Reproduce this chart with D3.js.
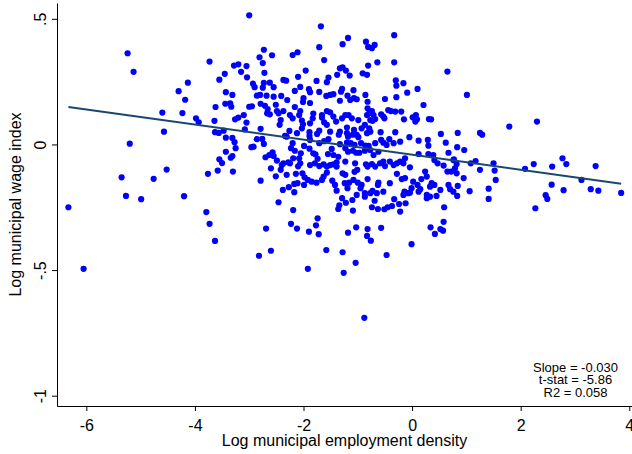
<!DOCTYPE html>
<html>
<head>
<meta charset="utf-8">
<script src="https://cdn.jsdelivr.net/npm/d3@7"></script>
<style>
  body { margin: 0; background: #fff; }
  svg { display: block; font-family: "Liberation Sans", Arial, sans-serif; }
</style>
</head>
<body>
<svg id="chart" width="632" height="454"></svg>
<script>
// [log employment density, log wage index], grouped by area
const pointsWest = [
  [-6.33,-0.250],[-6.05,-0.495],[-5.24,0.363],[-5.13,0.289],[-5.20,0.003],[-5.35,-0.131],[-5.27,-0.205],
  [-4.99,-0.218],[-4.76,-0.137],[-4.60,0.127],[-4.57,0.051],[-4.52,-0.100],[-4.30,0.212],[-4.18,0.178],
  [-4.13,0.246],[-4.23,0.125],[-4.20,-0.206],[-3.98,0.104],[-3.93,0.088],[-3.76,-0.117],[-3.79,-0.269],
  [-3.73,-0.316],[-3.63,-0.384],[-3.73,0.330],[-3.55,0.258],[-3.45,0.281],[-3.28,0.314],[-3.43,0.208],
  [-3.31,0.197],[-3.44,0.162],[-3.35,0.164],[-3.33,0.150],[-3.62,0.149],[-3.64,0.094],[-3.26,0.100],
  [-3.63,0.049],[-3.56,0.046],[-3.47,0.055],[-3.43,0.027],[-3.31,0.026],[-3.27,0.009],[-3.25,-0.015],
  [-3.43,-0.029],[-3.31,-0.046],[-3.34,-0.053],[-3.55,-0.059],[-3.50,-0.074],[-3.58,-0.104],[-3.30,-0.108]
];
const pointsMidUpper = [
  [-3.00,0.514],[-1.68,0.470],[-1.18,0.424],[-1.28,0.399],[-0.85,0.409],[-0.81,0.388],[-1.71,0.387],
  [-2.73,0.377],[-2.81,0.347],[-2.58,0.355],[-2.20,0.356],[-2.11,0.367],[-1.62,0.336],[-2.75,0.324],
  [-3.20,0.319],[-3.05,0.312],[-3.15,0.289],[-2.72,0.285],[-3.04,0.267],[-1.96,0.294],[-1.33,0.303],
  [-1.28,0.307],[-1.22,0.294],[-1.15,0.274],[-1.38,0.277],[-0.91,0.283],[-0.83,0.277],[-0.81,0.314],
  [-2.37,0.257],[-2.32,0.254],[-2.10,0.269],[-1.54,0.266],[-1.57,0.248],[-1.76,0.253],[-2.93,0.242],
  [-2.90,0.228],[-2.73,0.245],[-2.62,0.246],[-2.75,0.226],[-2.55,0.228],[-2.06,0.229],[-1.90,0.220],
  [-1.88,0.208],[-2.16,0.213],[-1.71,0.209],[-1.29,0.221],[-1.31,0.210],[-1.08,0.216],[-2.86,0.194],
  [-2.80,0.197],[-2.68,0.194],[-2.55,0.190],[-2.41,0.193],[-2.30,0.177],[-2.00,0.184],[-2.01,0.169],
  [-1.88,0.165],[-1.58,0.193],[-1.51,0.197],[-1.45,0.200],[-1.33,0.174],[-1.19,0.194],[-1.14,0.177],
  [-1.07,0.184],[-1.02,0.180],[-0.86,0.197],[-0.82,0.170],[-3.00,0.150],[-2.95,0.152],[-2.79,0.162],
  [-2.71,0.154],[-2.66,0.141],[-2.51,0.158],[-2.49,0.133],[-2.16,0.149],[-2.06,0.133],[-1.82,0.123],
  [-1.66,0.117],[-1.57,0.133],[-1.51,0.128],[-3.20,0.107],[-3.10,0.117],[-2.67,0.124],[-2.62,0.120],
  [-2.46,0.124],[-2.37,0.133],[-3.05,0.087],[-3.08,0.060],[-2.79,0.062],[-2.42,0.097],[-2.44,0.078],
  [-2.25,0.117],[-2.20,0.104],[-2.08,0.117],[-2.03,0.095],[-2.01,0.080],[-1.88,0.084],[-1.83,0.104],
  [-1.66,0.107],[-1.62,0.088],[-1.57,0.078],[-1.45,0.111],[-1.40,0.091],[-1.29,0.104],[-1.23,0.117],
  [-1.17,0.117],[-1.11,0.104],[-0.99,0.097],[-0.87,0.078],[-0.83,0.117],[-0.77,0.097],[-2.26,0.054],
  [-2.12,0.045],[-2.03,0.064],[-1.89,0.049],[-1.71,0.055],[-1.51,0.051],[-1.33,0.051],[-1.20,0.067],
  [-1.07,0.058],[-0.93,0.064],[-0.83,0.045]
];
const pointsMidLower = [
  [-2.96,-0.011],[-2.92,-0.009],[-2.86,0.021],[-2.76,0.022],[-2.73,0.002],[-2.70,-0.051],[-2.63,-0.042],
  [-2.57,-0.031],[-2.55,-0.046],[-2.49,-0.064],[-2.60,-0.095],[-2.79,-0.144],[-2.51,-0.127],[-2.42,-0.101],
  [-2.40,-0.082],[-2.37,-0.075],[-2.31,-0.121],[-2.28,-0.071],[-2.25,-0.075],[-2.38,-0.181],[-2.27,-0.170],
  [-2.17,-0.190],[-2.17,-0.157],[-2.11,-0.154],[-1.99,-0.161],[-2.46,-0.230],[-2.19,-0.261],[-2.69,-0.335],
  [-2.23,-0.316],[-2.12,-0.335],[-1.90,-0.347],[-1.77,-0.322],[-1.74,-0.294],[-1.72,-0.357],[-2.60,-0.423],
  [-2.82,-0.443],[-1.58,-0.420],[-1.28,-0.429],[-1.18,-0.351],[-1.03,-0.330],[-1.36,-0.257],[-1.34,-0.242],
  [-1.29,-0.214],[-1.22,-0.232],[-1.10,-0.221],[-1.09,-0.263],[-1.02,-0.201],[-0.95,-0.174],[-0.87,-0.208],
  [-0.93,-0.161],[-1.00,-0.152],[-1.08,-0.141],[-1.16,-0.152],[-1.24,-0.154],[-1.19,-0.174],[-1.28,-0.115],
  [-1.23,-0.121],[-1.42,-0.161],[-1.47,-0.144],[-1.39,-0.184],[-1.57,-0.112],[-1.63,-0.128],[-1.66,-0.141],
  [-1.76,-0.152],[-1.85,-0.148],[-1.92,-0.141],[-1.98,-0.131],[-2.02,-0.115],[-2.14,-0.117],[-2.10,-0.087],
  [-2.06,-0.075],[-2.08,-0.055],[-2.05,-0.035],[-2.19,-0.055],[-2.16,-0.025],[-2.23,-0.015],[-2.20,0.005],
  [-2.31,0.031],[-2.34,0.034],[-1.89,0.034],[-1.88,0.018],[-1.99,-0.006],[-1.89,-0.017],[-1.82,-0.035],
  [-1.78,-0.039],[-1.74,-0.057],[-1.71,0.005],[-1.75,0.042],[-1.62,0.013],[-1.54,0.021],[-1.88,-0.082],
  [-1.79,-0.075],[-1.71,-0.086],[-1.63,-0.079],[-1.57,-0.088],[-1.51,-0.082],[-1.45,-0.079],[-1.39,-0.088],
  [-1.55,-0.038],[-1.45,-0.042],[-1.36,-0.049],[-1.48,-0.018],[-1.33,0.001],[-1.23,-0.015],[-1.20,0.007],
  [-1.35,0.039],[-1.20,0.045],[-1.18,0.031],[-1.09,0.039],[-1.02,0.038],[-0.99,0.029],[-1.13,0.005],
  [-1.06,-0.002],[-0.94,0.005],[-0.86,-0.005],[-1.18,-0.029],[-1.09,-0.025],[-1.03,-0.033],[-0.97,-0.033],
  [-0.87,-0.025],[-1.39,-0.071],[-1.23,-0.068],[-1.05,-0.075],[-1.01,-0.101],[-1.06,-0.109],[-0.85,-0.079],
  [-0.82,-0.088]
];
const pointsCentreUpper = [
  [-0.33,0.435],[-0.74,0.383],[-0.69,0.396],[-0.64,0.327],[-0.33,0.327],[0.65,0.290],[-0.30,0.255],
  [-0.29,0.234],[-0.16,0.244],[0.10,0.221],[-0.09,0.206],[-0.50,0.181],[-0.29,0.188],[1.01,0.197],
  [0.21,0.157],[-0.82,0.144],[-0.74,0.133],[-0.71,0.117],[-0.79,0.124],[-0.44,0.137],[-0.39,0.133],
  [-0.31,0.131],[-0.20,0.131],[-0.57,0.120],[-0.53,0.111],[-0.51,0.104],[-0.68,0.101],[-0.73,0.094],
  [-0.15,0.100],[0.01,0.108],[0.07,0.117],[0.09,0.100],[0.06,0.091],[0.31,0.101],[0.35,0.100],
  [-0.58,0.049],[-0.31,0.049],[0.53,0.042],[0.84,0.046],[1.25,0.046],[1.29,0.039],[-0.79,0.064],
  [-0.77,0.051],[1.79,0.071],[2.30,0.091]
];
const pointsCentreLower = [
  [-0.57,0.018],[-0.42,0.021],[-0.34,0.005],[-0.22,0.011],[-0.05,0.029],[0.12,0.015],[0.29,0.018],
  [0.30,-0.005],[0.62,0.007],[0.83,-0.011],[0.96,-0.022],[-0.80,-0.006],[-0.77,-0.022],[-0.71,-0.042],
  [-0.62,-0.029],[-0.68,0.005],[-0.53,0.007],[-0.47,-0.002],[0.12,-0.038],[0.30,-0.038],[0.39,-0.042],
  [0.41,-0.062],[0.47,-0.075],[0.67,-0.033],[0.58,-0.084],[0.76,-0.062],[0.82,-0.078],[1.08,-0.075],
  [1.17,-0.066],[1.25,-0.101],[1.50,-0.075],[1.52,-0.104],[1.54,-0.141],[-0.74,-0.078],[-0.68,-0.088],
  [-0.59,-0.075],[-0.53,-0.068],[-0.50,-0.086],[-0.41,-0.068],[-0.34,-0.082],[-0.28,-0.075],[-0.22,-0.068],
  [-0.16,-0.075],[-0.13,-0.055],[-0.04,-0.091],[-0.82,-0.138],[-0.62,-0.152],[-0.63,-0.161],[-0.41,-0.154],
  [-0.28,-0.117],[-0.19,-0.138],[-0.13,-0.134],[0.02,-0.148],[0.10,-0.161],[0.17,-0.138],[0.24,-0.108],
  [0.27,-0.128],[0.36,-0.154],[0.33,-0.168],[0.41,-0.161],[0.52,-0.181],[0.67,-0.161],[0.70,-0.178],
  [0.76,-0.188],[0.82,-0.115],[0.79,-0.095],[0.72,-0.108],[0.65,-0.108],[0.95,-0.134],[0.83,-0.205],
  [1.06,-0.186],[1.41,-0.176],[1.41,-0.217],[-0.87,-0.194],[-0.77,-0.194],[-0.73,-0.185],[-0.65,-0.194],
  [-0.53,-0.188],[-0.69,-0.224],[-0.74,-0.250],[-0.63,-0.257],[-0.51,-0.258],[-0.45,-0.250],[-0.37,-0.245],
  [-0.33,-0.218],[-0.24,-0.237],[-0.22,-0.267],[-0.16,-0.201],[-0.14,-0.188],[-0.12,-0.234],[-0.07,-0.194],
  [-0.01,-0.174],[-0.04,-0.192],[0.12,-0.188],[0.15,-0.178],[0.27,-0.214],[0.27,-0.201],[0.33,-0.208],
  [0.45,-0.205],[0.59,-0.250],[-0.82,-0.337],[-0.83,-0.364],[-0.76,-0.383],[-0.57,-0.332],[-0.01,-0.397],
  [-0.47,-0.440],[0.34,-0.330],[0.42,-0.356],[0.52,-0.337],[0.57,-0.343],[0.58,-0.308],[0.77,-0.059],
  [0.84,-0.165]
];
const pointsEast = [
  [2.08,-0.097],[2.24,-0.078],[2.58,-0.088],[2.77,-0.055],[2.84,-0.078],[3.38,-0.086],[3.12,-0.141],
  [2.57,-0.160],[2.79,-0.182],[3.29,-0.178],[3.43,-0.184],[3.85,-0.193],[2.46,-0.202],[2.49,-0.217],
  [2.27,-0.254]
];
const pointsLow = [[-1.92,-0.495],[-1.26,-0.511],[-1.04,-0.471],[-0.88,-0.690]];

const xTicks = [-6, -4, -2, 0, 2, 4];
const yTicks = [0.5, 0, -0.5, -1];
const yTickLabels = [".5", "0", "-.5", "-1"];

// fitted line and its stats, as printed in the corner
const fitSlope = -0.030, fitIntercept = -0.041;
const statLines = ["Slope = -0.030", "t-stat = -5.86", "R2 = 0.058"];

const data = [].concat(pointsWest, pointsMidUpper, pointsMidLower,
  pointsCentreUpper, pointsCentreLower, pointsEast, pointsLow);

const svg = d3.select("#chart");
const plotLeft = 57, plotRight = 632, plotTop = 3, plotBottom = 406;

const x = d3.scaleLinear().domain([-6.54, 4.05]).range([plotLeft, plotRight]);
const y = d3.scaleLinear().domain([-1.041, 0.563]).range([plotBottom, plotTop]);

// x axis
const gx = svg.append("g")
  .attr("transform", "translate(0," + plotBottom + ")")
  .call(d3.axisBottom(x).tickValues(xTicks).tickSize(5).tickSizeOuter(0)
    .tickFormat(d => String(d)));
gx.select(".domain").attr("stroke", "#000");
gx.selectAll(".tick line").attr("stroke", "#000");
gx.selectAll("text")
  .attr("font-size", 16).attr("font-family", "Liberation Sans, Arial, sans-serif")
  .attr("fill", "#000").attr("dy", null).attr("y", 25);

// y axis, labels turned like the original
const gy = svg.append("g")
  .attr("transform", "translate(" + plotLeft + ",0)")
  .call(d3.axisLeft(y).tickValues(yTicks).tickSize(5).tickSizeOuter(0)
    .tickFormat((d, i) => yTickLabels[i]));
gy.select(".domain").attr("stroke", "#000");
gy.selectAll(".tick line").attr("stroke", "#000");
gy.selectAll("text")
  .attr("font-size", 16).attr("font-family", "Liberation Sans, Arial, sans-serif")
  .attr("fill", "#000")
  .attr("transform", "rotate(-90)")
  .attr("x", 0).attr("y", -11).attr("dy", null)
  .attr("text-anchor", "middle");

// axis titles
svg.append("text")
  .attr("x", (plotLeft + plotRight) / 2).attr("y", 446)
  .attr("text-anchor", "middle").attr("font-size", 16)
  .text("Log municipal employment density");
svg.append("text")
  .attr("transform", "translate(21," + (plotTop + plotBottom) / 2 + ") rotate(-90)")
  .attr("text-anchor", "middle").attr("font-size", 16)
  .text("Log municipal wage index");

// points
svg.append("g")
  .selectAll("circle")
  .data(data)
  .enter()
  .append("circle")
  .attr("cx", d => x(d[0]))
  .attr("cy", d => y(d[1]))
  .attr("r", 3.1)
  .attr("fill", "#0000ff");

// fitted line across the data range
const xr = d3.extent(data, d => d[0]);
svg.append("line")
  .attr("x1", x(xr[0])).attr("y1", y(fitIntercept + fitSlope * xr[0]))
  .attr("x2", x(xr[1])).attr("y2", y(fitIntercept + fitSlope * xr[1]))
  .attr("stroke", "#1a476f").attr("stroke-width", 2);

// stats box
svg.append("g")
  .selectAll("text")
  .data(statLines)
  .enter()
  .append("text")
  .attr("x", 575.5)
  .attr("y", (d, i) => [372, 384, 397][i])
  .attr("text-anchor", "middle")
  .attr("font-size", 13)
  .text(d => d);
</script>
</body>
</html>
